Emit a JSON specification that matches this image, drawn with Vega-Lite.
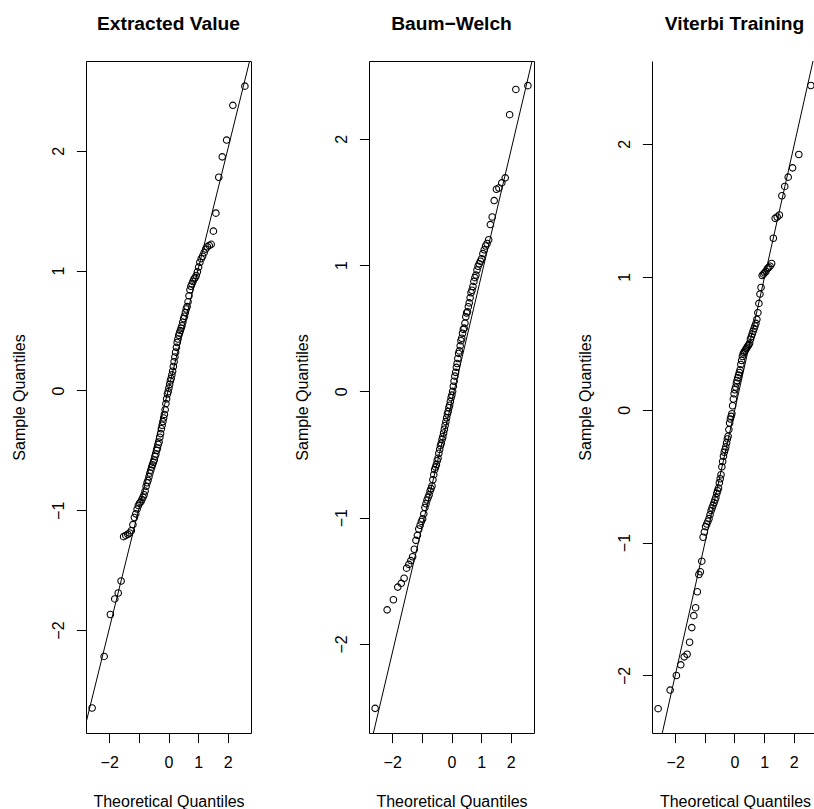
{
  "$schema": "https://vega.github.io/schema/vega-lite/v6.json",
  "background": "white",
  "padding": {"left": 11, "top": 14, "right": 0, "bottom": 0},
  "spacing": 118,
  "bounds": "flush",
  "config": {
    "font": "Liberation Sans",
    "view": {"stroke": "black", "strokeWidth": 1},
    "axis": {
      "grid": false, "domain": false, "domainColor": "black", "domainWidth": 1,
      "tickColor": "black", "tickWidth": 1, "tickSize": 9.6,
      "labelFont": "Liberation Sans", "labelFontSize": 16, "labelColor": "black",
      "labelOverlap": false, "labelFlush": false, "format": "d",
      "titleFont": "Liberation Sans", "titleFontSize": 16, "titleFontWeight": "normal", "titleColor": "black"
    },
    "axisX": {"labelPadding": 25, "labelBaseline": "alphabetic", "titleY": 73, "titleBaseline": "alphabetic", "titleAlign": "center"},
    "axisY": {"labelAngle": 270, "labelAlign": "center", "labelBaseline": "alphabetic", "labelPadding": 13.4, "titleAngle": 270, "titleX": -61.4, "titleY": 336, "titleBaseline": "alphabetic", "titleAlign": "center"},
    "title": {"font": "Liberation Sans", "fontSize": 19.2, "fontWeight": "bold", "color": "black", "anchor": "middle", "frame": "group", "baseline": "alphabetic", "offset": 27}
  },
  "datasets": {
    "ev": [
      {"x": -2.5758, "y": -2.65}, {"x": -2.1701, "y": -2.22}, {"x": -1.9600, "y": -1.87}, {"x": -1.8119, "y": -1.74}, {"x": -1.6954, "y": -1.69},
      {"x": -1.5982, "y": -1.59}, {"x": -1.5141, "y": -1.22}, {"x": -1.4395, "y": -1.21}, {"x": -1.3722, "y": -1.20}, {"x": -1.3106, "y": -1.19},
      {"x": -1.2536, "y": -1.17}, {"x": -1.2004, "y": -1.12}, {"x": -1.1503, "y": -1.06}, {"x": -1.1031, "y": -1.03}, {"x": -1.0581, "y": -0.99},
      {"x": -1.0152, "y": -0.96}, {"x": -0.9741, "y": -0.94}, {"x": -0.9346, "y": -0.93}, {"x": -0.8965, "y": -0.91}, {"x": -0.8596, "y": -0.89},
      {"x": -0.8239, "y": -0.87}, {"x": -0.7892, "y": -0.84}, {"x": -0.7554, "y": -0.80}, {"x": -0.7225, "y": -0.77}, {"x": -0.6903, "y": -0.75},
      {"x": -0.6588, "y": -0.72}, {"x": -0.6280, "y": -0.69}, {"x": -0.5978, "y": -0.665}, {"x": -0.5681, "y": -0.64}, {"x": -0.5388, "y": -0.62},
      {"x": -0.5101, "y": -0.60}, {"x": -0.4817, "y": -0.58}, {"x": -0.4538, "y": -0.55}, {"x": -0.4261, "y": -0.53}, {"x": -0.3989, "y": -0.50},
      {"x": -0.3719, "y": -0.48}, {"x": -0.3451, "y": -0.45}, {"x": -0.3186, "y": -0.43}, {"x": -0.2924, "y": -0.39}, {"x": -0.2663, "y": -0.36},
      {"x": -0.2404, "y": -0.32}, {"x": -0.2147, "y": -0.29}, {"x": -0.1891, "y": -0.26}, {"x": -0.1637, "y": -0.23}, {"x": -0.1383, "y": -0.20},
      {"x": -0.1130, "y": -0.16}, {"x": -0.0878, "y": -0.11}, {"x": -0.0627, "y": -0.07}, {"x": -0.0376, "y": -0.03}, {"x": -0.0125, "y": -0.01},
      {"x": 0.0125, "y": 0.02}, {"x": 0.0376, "y": 0.05}, {"x": 0.0627, "y": 0.08}, {"x": 0.0878, "y": 0.10}, {"x": 0.1130, "y": 0.13},
      {"x": 0.1383, "y": 0.16}, {"x": 0.1637, "y": 0.20}, {"x": 0.1891, "y": 0.24}, {"x": 0.2147, "y": 0.28}, {"x": 0.2404, "y": 0.32},
      {"x": 0.2663, "y": 0.36}, {"x": 0.2924, "y": 0.40}, {"x": 0.3186, "y": 0.43}, {"x": 0.3451, "y": 0.46}, {"x": 0.3719, "y": 0.48},
      {"x": 0.3989, "y": 0.50}, {"x": 0.4261, "y": 0.52}, {"x": 0.4538, "y": 0.54}, {"x": 0.4817, "y": 0.57}, {"x": 0.5101, "y": 0.60},
      {"x": 0.5388, "y": 0.62}, {"x": 0.5681, "y": 0.65}, {"x": 0.5978, "y": 0.68}, {"x": 0.6280, "y": 0.70}, {"x": 0.6588, "y": 0.74},
      {"x": 0.6903, "y": 0.79}, {"x": 0.7225, "y": 0.84}, {"x": 0.7554, "y": 0.87}, {"x": 0.7892, "y": 0.89}, {"x": 0.8239, "y": 0.91},
      {"x": 0.8596, "y": 0.93}, {"x": 0.8965, "y": 0.94}, {"x": 0.9346, "y": 0.96}, {"x": 0.9741, "y": 0.99}, {"x": 1.0152, "y": 1.03},
      {"x": 1.0581, "y": 1.07}, {"x": 1.1031, "y": 1.10}, {"x": 1.1503, "y": 1.12}, {"x": 1.2004, "y": 1.15}, {"x": 1.2536, "y": 1.18},
      {"x": 1.3106, "y": 1.20}, {"x": 1.3722, "y": 1.21}, {"x": 1.4395, "y": 1.22}, {"x": 1.5141, "y": 1.33}, {"x": 1.5982, "y": 1.48},
      {"x": 1.6954, "y": 1.78}, {"x": 1.8119, "y": 1.95}, {"x": 1.9600, "y": 2.09}, {"x": 2.1701, "y": 2.38}, {"x": 2.5758, "y": 2.54}
    ],
    "bw": [
      {"x": -2.5758, "y": -2.51}, {"x": -2.1701, "y": -1.73}, {"x": -1.9600, "y": -1.65}, {"x": -1.8119, "y": -1.55}, {"x": -1.6954, "y": -1.52},
      {"x": -1.5982, "y": -1.48}, {"x": -1.5141, "y": -1.40}, {"x": -1.4395, "y": -1.37}, {"x": -1.3722, "y": -1.34}, {"x": -1.3106, "y": -1.31},
      {"x": -1.2536, "y": -1.25}, {"x": -1.2004, "y": -1.18}, {"x": -1.1503, "y": -1.14}, {"x": -1.1031, "y": -1.09}, {"x": -1.0581, "y": -1.06},
      {"x": -1.0152, "y": -1.03}, {"x": -0.9741, "y": -1.01}, {"x": -0.9346, "y": -0.97}, {"x": -0.8965, "y": -0.92}, {"x": -0.8596, "y": -0.89},
      {"x": -0.8239, "y": -0.86}, {"x": -0.7892, "y": -0.84}, {"x": -0.7554, "y": -0.82}, {"x": -0.7225, "y": -0.79}, {"x": -0.6903, "y": -0.77},
      {"x": -0.6588, "y": -0.75}, {"x": -0.6280, "y": -0.70}, {"x": -0.5978, "y": -0.66}, {"x": -0.5681, "y": -0.62}, {"x": -0.5388, "y": -0.60},
      {"x": -0.5101, "y": -0.58}, {"x": -0.4817, "y": -0.55}, {"x": -0.4538, "y": -0.53}, {"x": -0.4261, "y": -0.49}, {"x": -0.3989, "y": -0.46},
      {"x": -0.3719, "y": -0.43}, {"x": -0.3451, "y": -0.41}, {"x": -0.3186, "y": -0.38}, {"x": -0.2924, "y": -0.36}, {"x": -0.2663, "y": -0.33},
      {"x": -0.2404, "y": -0.30}, {"x": -0.2147, "y": -0.27}, {"x": -0.1891, "y": -0.24}, {"x": -0.1637, "y": -0.21}, {"x": -0.1383, "y": -0.18},
      {"x": -0.1130, "y": -0.16}, {"x": -0.0878, "y": -0.13}, {"x": -0.0627, "y": -0.11}, {"x": -0.0376, "y": -0.08}, {"x": -0.0125, "y": -0.05},
      {"x": 0.0125, "y": -0.03}, {"x": 0.0376, "y": 0.00}, {"x": 0.0627, "y": 0.04}, {"x": 0.0878, "y": 0.08}, {"x": 0.1130, "y": 0.12},
      {"x": 0.1383, "y": 0.15}, {"x": 0.1637, "y": 0.19}, {"x": 0.1891, "y": 0.22}, {"x": 0.2147, "y": 0.26}, {"x": 0.2404, "y": 0.30},
      {"x": 0.2663, "y": 0.32}, {"x": 0.2924, "y": 0.36}, {"x": 0.3186, "y": 0.40}, {"x": 0.3451, "y": 0.42}, {"x": 0.3719, "y": 0.46},
      {"x": 0.3989, "y": 0.49}, {"x": 0.4261, "y": 0.50}, {"x": 0.4538, "y": 0.54}, {"x": 0.4817, "y": 0.59}, {"x": 0.5101, "y": 0.62},
      {"x": 0.5388, "y": 0.63}, {"x": 0.5681, "y": 0.67}, {"x": 0.5978, "y": 0.70}, {"x": 0.6280, "y": 0.74}, {"x": 0.6588, "y": 0.78},
      {"x": 0.6903, "y": 0.80}, {"x": 0.7225, "y": 0.83}, {"x": 0.7554, "y": 0.87}, {"x": 0.7892, "y": 0.90}, {"x": 0.8239, "y": 0.92},
      {"x": 0.8596, "y": 0.96}, {"x": 0.8965, "y": 0.99}, {"x": 0.9346, "y": 1.01}, {"x": 0.9741, "y": 1.03}, {"x": 1.0152, "y": 1.05},
      {"x": 1.0581, "y": 1.09}, {"x": 1.1031, "y": 1.12}, {"x": 1.1503, "y": 1.15}, {"x": 1.2004, "y": 1.17}, {"x": 1.2536, "y": 1.20},
      {"x": 1.3106, "y": 1.32}, {"x": 1.3722, "y": 1.38}, {"x": 1.4395, "y": 1.51}, {"x": 1.5141, "y": 1.60}, {"x": 1.5982, "y": 1.61},
      {"x": 1.6954, "y": 1.65}, {"x": 1.8119, "y": 1.69}, {"x": 1.9600, "y": 2.19}, {"x": 2.1701, "y": 2.39}, {"x": 2.5758, "y": 2.42}
    ],
    "vt": [
      {"x": -2.5758, "y": -2.25}, {"x": -2.1701, "y": -2.11}, {"x": -1.9600, "y": -2.00}, {"x": -1.8119, "y": -1.92}, {"x": -1.6954, "y": -1.86},
      {"x": -1.5982, "y": -1.84}, {"x": -1.5141, "y": -1.75}, {"x": -1.4395, "y": -1.64}, {"x": -1.3722, "y": -1.55}, {"x": -1.3106, "y": -1.49},
      {"x": -1.2536, "y": -1.37}, {"x": -1.2004, "y": -1.24}, {"x": -1.1503, "y": -1.22}, {"x": -1.1031, "y": -1.14}, {"x": -1.0581, "y": -0.96},
      {"x": -1.0152, "y": -0.92}, {"x": -0.9741, "y": -0.88}, {"x": -0.9346, "y": -0.86}, {"x": -0.8965, "y": -0.84}, {"x": -0.8596, "y": -0.82},
      {"x": -0.8239, "y": -0.79}, {"x": -0.7892, "y": -0.76}, {"x": -0.7554, "y": -0.74}, {"x": -0.7225, "y": -0.72}, {"x": -0.6903, "y": -0.70},
      {"x": -0.6588, "y": -0.68}, {"x": -0.6280, "y": -0.66}, {"x": -0.5978, "y": -0.63}, {"x": -0.5681, "y": -0.61}, {"x": -0.5388, "y": -0.59},
      {"x": -0.5101, "y": -0.55}, {"x": -0.4817, "y": -0.52}, {"x": -0.4538, "y": -0.49}, {"x": -0.4261, "y": -0.43}, {"x": -0.3989, "y": -0.39},
      {"x": -0.3719, "y": -0.35}, {"x": -0.3451, "y": -0.32}, {"x": -0.3186, "y": -0.30}, {"x": -0.2924, "y": -0.28}, {"x": -0.2663, "y": -0.25},
      {"x": -0.2404, "y": -0.22}, {"x": -0.2147, "y": -0.20}, {"x": -0.1891, "y": -0.15}, {"x": -0.1637, "y": -0.10}, {"x": -0.1383, "y": -0.07},
      {"x": -0.1130, "y": -0.05}, {"x": -0.0878, "y": -0.03}, {"x": -0.0627, "y": 0.03}, {"x": -0.0376, "y": 0.08}, {"x": -0.0125, "y": 0.12},
      {"x": 0.0125, "y": 0.15}, {"x": 0.0376, "y": 0.17}, {"x": 0.0627, "y": 0.20}, {"x": 0.0878, "y": 0.22}, {"x": 0.1130, "y": 0.24},
      {"x": 0.1383, "y": 0.26}, {"x": 0.1637, "y": 0.28}, {"x": 0.1891, "y": 0.30}, {"x": 0.2147, "y": 0.34}, {"x": 0.2404, "y": 0.37},
      {"x": 0.2663, "y": 0.40}, {"x": 0.2924, "y": 0.42}, {"x": 0.3186, "y": 0.43}, {"x": 0.3451, "y": 0.44}, {"x": 0.3719, "y": 0.45},
      {"x": 0.3989, "y": 0.46}, {"x": 0.4261, "y": 0.47}, {"x": 0.4538, "y": 0.48}, {"x": 0.4817, "y": 0.49}, {"x": 0.5101, "y": 0.50},
      {"x": 0.5388, "y": 0.53}, {"x": 0.5681, "y": 0.55}, {"x": 0.5978, "y": 0.57}, {"x": 0.6280, "y": 0.59}, {"x": 0.6588, "y": 0.61},
      {"x": 0.6903, "y": 0.63}, {"x": 0.7225, "y": 0.65}, {"x": 0.7554, "y": 0.68}, {"x": 0.7892, "y": 0.73}, {"x": 0.8239, "y": 0.80},
      {"x": 0.8596, "y": 0.87}, {"x": 0.8965, "y": 0.92}, {"x": 0.9346, "y": 1.01}, {"x": 0.9741, "y": 1.02}, {"x": 1.0152, "y": 1.03},
      {"x": 1.0581, "y": 1.04}, {"x": 1.1031, "y": 1.06}, {"x": 1.1503, "y": 1.07}, {"x": 1.2004, "y": 1.08}, {"x": 1.2536, "y": 1.10},
      {"x": 1.3106, "y": 1.29}, {"x": 1.3722, "y": 1.44}, {"x": 1.4395, "y": 1.45}, {"x": 1.5141, "y": 1.465}, {"x": 1.5982, "y": 1.61},
      {"x": 1.6954, "y": 1.68}, {"x": 1.8119, "y": 1.75}, {"x": 1.9600, "y": 1.82}, {"x": 2.1701, "y": 1.92}, {"x": 2.5758, "y": 2.44}
    ]
  },
  "hconcat": [
    {
      "width": 165, "height": 672,
      "title": "Extracted Value",
      "layer": [
        {
          "data": {"name": "ev"},
          "mark": {"type": "point", "shape": "circle", "filled": false, "color": "black", "size": 42, "strokeWidth": 1.1, "opacity": 1},
          "encoding": {
            "x": {"field": "x", "type": "quantitative", "scale": {"domain": [-2.782, 2.782], "nice": false, "zero": false},
                  "axis": {"title": "Theoretical Quantiles", "values": [-2, -1, 0, 1, 2], "format": "d", "labelExpr": "datum.value == -1 ? '' : datum.label", "titleX": 82.5}},
            "y": {"field": "y", "type": "quantitative", "scale": {"domain": [-2.859, 2.75], "nice": false, "zero": false},
                  "axis": {"title": "Sample Quantiles", "values": [-2, -1, 0, 1, 2], "format": "d"}}
          }
        },
        {
          "data": {"values": [{"x": -3, "y": -2.992}, {"x": 3, "y": 3.015}]},
          "mark": {"type": "line", "color": "black", "strokeWidth": 1, "clip": true},
          "encoding": {
            "x": {"field": "x", "type": "quantitative"},
            "y": {"field": "y", "type": "quantitative"}
          }
        }
      ]
    },
    {
      "width": 165, "height": 672,
      "title": "Baum\u2212Welch",
      "layer": [
        {
          "data": {"name": "bw"},
          "mark": {"type": "point", "shape": "circle", "filled": false, "color": "black", "size": 42, "strokeWidth": 1.1, "opacity": 1},
          "encoding": {
            "x": {"field": "x", "type": "quantitative", "scale": {"domain": [-2.782, 2.782], "nice": false, "zero": false},
                  "axis": {"title": "Theoretical Quantiles", "values": [-2, -1, 0, 1, 2], "format": "d", "labelExpr": "datum.value == -1 ? '' : datum.label", "titleX": 82.5}},
            "y": {"field": "y", "type": "quantitative", "scale": {"domain": [-2.705, 2.615], "nice": false, "zero": false},
                  "axis": {"title": "Sample Quantiles", "values": [-2, -1, 0, 1, 2], "format": "d"}}
          }
        },
        {
          "data": {"values": [{"x": -3, "y": -3.0695}, {"x": 3, "y": 2.8969}]},
          "mark": {"type": "line", "color": "black", "strokeWidth": 1, "clip": true},
          "encoding": {
            "x": {"field": "x", "type": "quantitative"},
            "y": {"field": "y", "type": "quantitative"}
          }
        }
      ]
    },
    {
      "width": 162, "height": 672,
      "title": {"text": "Viterbi Training", "dx": 1.5},
      "view": {"stroke": null},
      "layer": [
        {
          "data": {"name": "vt"},
          "mark": {"type": "point", "shape": "circle", "filled": false, "color": "black", "size": 42, "strokeWidth": 1.1, "opacity": 1},
          "encoding": {
            "x": {"field": "x", "type": "quantitative", "scale": {"domain": [-2.782, 2.682], "nice": false, "zero": false},
                  "axis": {"title": "Theoretical Quantiles", "values": [-2, -1, 0, 1, 2], "format": "d", "labelExpr": "datum.value == -1 ? '' : datum.label", "titleX": 83, "domain": true}},
            "y": {"field": "y", "type": "quantitative", "scale": {"domain": [-2.433, 2.624], "nice": false, "zero": false},
                  "axis": {"title": "Sample Quantiles", "values": [-2, -1, 0, 1, 2], "format": "d", "domain": true}}
          }
        },
        {
          "data": {"values": [{"x": -3, "y": -2.995}, {"x": 3, "y": 2.973}]},
          "mark": {"type": "line", "color": "black", "strokeWidth": 1, "clip": true},
          "encoding": {
            "x": {"field": "x", "type": "quantitative"},
            "y": {"field": "y", "type": "quantitative"}
          }
        },
        {
          "mark": {"type": "rule", "color": "black", "strokeWidth": 1},
          "encoding": {"y": {"datum": 2.624}}
        }
      ]
    }
  ]
}
